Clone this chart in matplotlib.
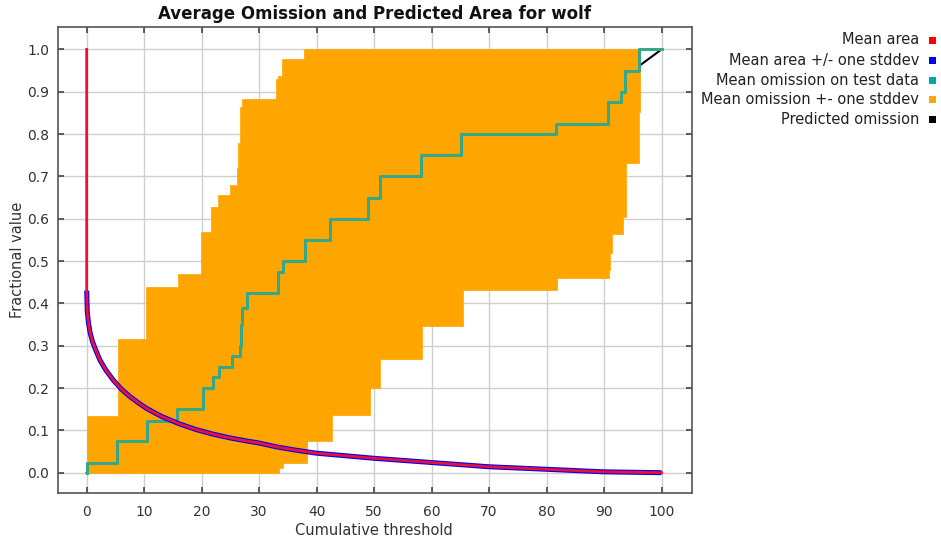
import matplotlib
matplotlib.use("Agg")
import matplotlib.pyplot as plt
from matplotlib.patches import Rectangle

# ---- data ----
title = "Average Omission and Predicted Area for wolf"
x_label = "Cumulative threshold"
y_label = "Fractional value"
x_ticks = [0, 10, 20, 30, 40, 50, 60, 70, 80, 90, 100]
y_ticks = [0.0, 0.1, 0.2, 0.3, 0.4, 0.5, 0.6, 0.7, 0.8, 0.9, 1.0]

# Mean area (fraction of area predicted present)
area_thr = [0, 0, 0.1, 0.3, 0.6, 1, 1.5, 2.3, 3.3, 4.6, 6, 7.5, 9, 10.4, 13, 16.2,
            19, 22, 25, 27.8, 30, 33, 36, 40, 45, 50, 55, 60, 65, 70, 75, 80, 85,
            90, 95, 100]
area_val = [1.0, 0.43, 0.38, 0.355, 0.33, 0.31, 0.292, 0.266, 0.243, 0.219, 0.198,
            0.18, 0.165, 0.152, 0.133, 0.115, 0.102, 0.091, 0.082, 0.075, 0.070,
            0.061, 0.054, 0.046, 0.040, 0.034, 0.029, 0.024, 0.019, 0.014, 0.011,
            0.008, 0.005, 0.002, 0.001, 0.0]

# Mean omission on test data (step function)
om_thr = [0, 0, 5.3, 10.5, 15.7, 20.2, 22.0, 23.0, 25.2, 26.7, 26.9, 27.1, 27.8,
          33.2, 34.1, 38.0, 42.3, 49.0, 51.0, 58.1, 65.2, 81.7, 90.7, 92.9, 93.6,
          96.1, 100]
om_val = [0, 0.024, 0.075, 0.123, 0.15, 0.2, 0.225, 0.25, 0.275, 0.30, 0.35, 0.39,
          0.425, 0.475, 0.5, 0.55, 0.6, 0.65, 0.7, 0.75, 0.8, 0.825, 0.875, 0.9,
          0.95, 1.0, 1.0]

# Mean omission +- one stddev (step functions)
band_thr = [0, 5.4, 10.3, 15.8, 19.9, 21.7, 22.9, 25.0, 26.1, 26.4, 26.7, 27.0,
            33.0, 33.3, 33.5, 33.9, 34.1, 37.8, 38.3, 42.7, 49.3, 51.1, 58.4, 65.4,
            81.9, 90.9, 91.1, 91.3, 93.3, 93.9, 96.1, 96.3, 100]
band_hi = [0.134, 0.316, 0.438, 0.47, 0.569, 0.628, 0.656, 0.68, 0.72, 0.78, 0.865,
           0.882, 0.929, 0.937, 0.937, 0.977, 0.977, 1.0, 1.0, 1.0, 1.0, 1.0, 1.0,
           1.0, 1.0, 1.0, 1.0, 1.0, 1.0, 1.0, 1.0, 1.0, 1.0]
band_lo = [0, 0, 0, 0, 0, 0, 0, 0, 0, 0, 0, 0, 0, 0, 0.01, 0.01, 0.022, 0.022,
           0.076, 0.136, 0.2, 0.268, 0.346, 0.431, 0.459, 0.48, 0.52, 0.565, 0.605,
           0.731, 0.853, 1.0, 1.0]

# Predicted omission
pred_thr = [0, 100]
pred_val = [0, 1]

legend_labels = ["Mean area", "Mean area +/- one stddev", "Mean omission on test data",
                 "Mean omission +- one stddev", "Predicted omission"]
legend_colors = ["#ff0000", "#0000ff", "#00a8a8", "#ffa500", "#000000"]

# ---- figure ----
W, H = 941, 543
fig = plt.figure(figsize=(W / 100, H / 100), dpi=100)
ax = fig.add_axes([57.5 / W, 1 - 493 / H, (692 - 57.5) / W, (493 - 27) / H])

ax.set_xlim(-5.08, 105.3)
ax.set_ylim(-0.048, 1.053)
ax.set_xticks(x_ticks)
ax.set_yticks(y_ticks)
ax.set_yticklabels([f"{v:.1f}" for v in y_ticks])
ax.grid(True, color="#cfcfcf", linewidth=1.0, zorder=0)
ax.set_axisbelow(True)

ax.plot(pred_thr, pred_val, color="#000000", linewidth=1.5, zorder=2)
ax.fill_between(band_thr, band_lo, band_hi, step="post", facecolor="#ffa500",
                edgecolor="#ffa500", linewidth=0.5, zorder=3)
ax.step(om_thr, om_val, where="post", color="#35a88a", linewidth=2.2, zorder=4)
ax.plot(area_thr[1:], area_val[1:], color="#0000ff", linewidth=3.6, zorder=5,
        solid_capstyle="butt")
ax.plot(area_thr, area_val, color="#ee1030", linewidth=2.0, zorder=6)

for s in ax.spines.values():
    s.set_color("#555555")
    s.set_linewidth(1.2)
ax.tick_params(direction="in", length=4, width=1.2, color="#444444",
               top=True, right=True, labelsize=10, labelcolor="#333333")
ax.tick_params(axis="x", pad=9)
ax.tick_params(axis="y", pad=6)

fig.text(374 / W, 1 - 19 / H, title, ha="center", va="baseline",
         fontsize=12, fontweight="bold", color="#111111")
fig.text(374 / W, 1 - 535 / H, x_label, ha="center", va="baseline",
         fontsize=10.5, color="#333333")
fig.text(18 / W, 1 - 260 / H, y_label, ha="center", va="center",
         rotation=90, fontsize=10.5, color="#333333")

row_y = [40, 60.5, 80, 99.5, 119.5]
for lab, col, yy in zip(legend_labels, legend_colors, row_y):
    fig.text(919 / W, 1 - yy / H, lab, ha="right", va="center",
             fontsize=10.5, color="#222222")
    fig.patches.append(Rectangle((929 / W, 1 - (yy + 3.5) / H), 7 / W, 7 / H,
                                 transform=fig.transFigure, facecolor=col,
                                 edgecolor="none"))

fig.savefig("out.png", dpi=100)
